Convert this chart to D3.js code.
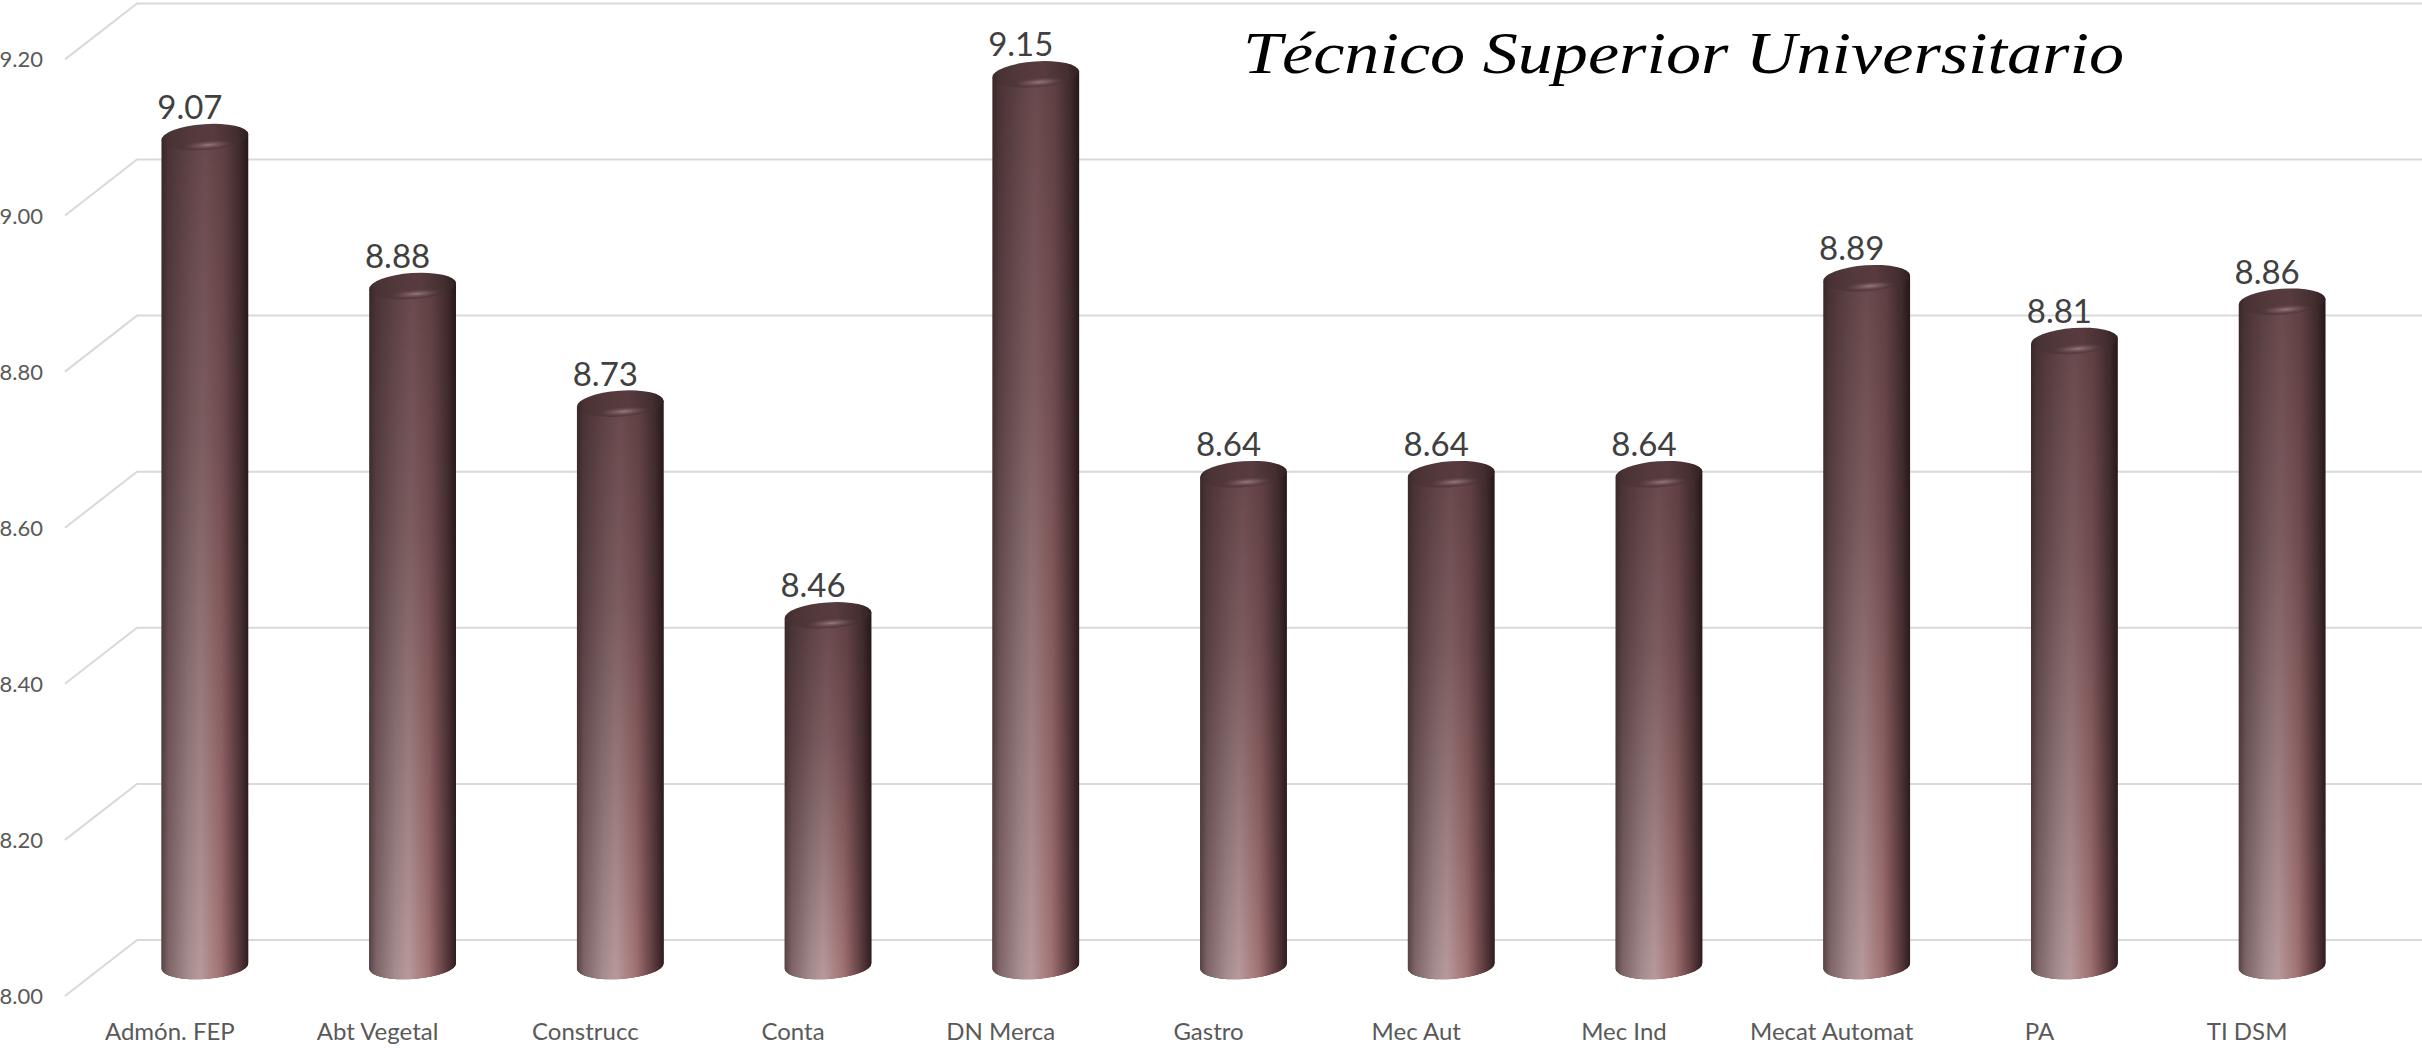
<!DOCTYPE html>
<html>
<head>
<meta charset="utf-8">
<script src="https://cdn.jsdelivr.net/npm/d3@7"></script>
<style>
  html, body { margin: 0; padding: 0; background: #ffffff; }
  svg { display: block; }
</style>
</head>
<body>
<script>
const categories = ["Admón. FEP", "Abt Vegetal", "Construcc", "Conta", "DN Merca", "Gastro", "Mec Aut", "Mec Ind", "Mecat Automat", "PA", "TI DSM"];
const values = [9.07, 8.88, 8.73, 8.46, 9.15, 8.64, 8.64, 8.64, 8.89, 8.81, 8.86];
const yTicks = [8.00, 8.20, 8.40, 8.60, 8.80, 9.00, 9.20];
const title = "Técnico Superior Universitario";

const W = 2422, H = 1048;
const svg = d3.select("body").append("svg").attr("width", W).attr("height", H);
const defs = svg.append("defs");

// Scales
const yBack = d3.scaleLinear().domain([8, 9.2]).range([940, 3.4]);   // back wall
const depth = { dx: -72, dy: 56 };                                   // front plane offset
const yBar = d3.scaleLinear().domain([8, 9.2]).range([976, 35.2]);   // mid depth (bar tops)
const x = d3.scaleBand().domain(categories).range([101, 2386]).padding(0);
const cx = c => x(c) + x.bandwidth() / 2;

// Gridlines (with 3D floor slant)
const grid = svg.append("g");
yTicks.forEach(t => {
  const yb = yBack(t);
  grid.append("path")
    .attr("d", `M${137 + depth.dx},${yb + depth.dy} L137,${yb} L${W},${yb}`)
    .attr("fill", "none").attr("stroke", "#d9d9d9").attr("stroke-width", 2);
});

// Y-axis tick labels (front plane)
svg.append("g").selectAll("text").data(yTicks).join("text")
  .attr("x", 43).attr("y", d => yBack(d) + depth.dy + 8)
  .attr("text-anchor", "end")
  .attr("font-family", "Lato, 'Open Sans', sans-serif")
  .attr("font-size", 22).attr("fill", "#595959")
  .text(d => d3.format(".2f")(d));

// Gradients
function hGrad(id, stops) {
  const g = defs.append("linearGradient").attr("id", id).attr("x1", 0).attr("x2", 1).attr("y1", 0).attr("y2", 0);
  stops.forEach(s => g.append("stop").attr("offset", s[0]).attr("stop-color", s[1]));
}
hGrad("darkBody", [[0, "#3a2729"], [0.08, "#4a3335"], [0.3, "#5c4043"], [0.5, "#6a4a4d"], [0.72, "#5f3f42"], [0.9, "#3f2a2c"], [1, "#261819"]]);
hGrad("lightBody", [[0, "#5a4446"], [0.08, "#7f6567"], [0.3, "#a58d8f"], [0.45, "#b89a9b"], [0.68, "#a27274"], [0.88, "#5e3d3f"], [1, "#2e1e20"]]);

const vg = defs.append("linearGradient").attr("id", "vMaskGrad").attr("x1", 0).attr("x2", 0).attr("y1", 0).attr("y2", 1);
vg.append("stop").attr("offset", 0).attr("stop-color", "#fff").attr("stop-opacity", 0);
vg.append("stop").attr("offset", 0.35).attr("stop-color", "#fff").attr("stop-opacity", 0.25);
vg.append("stop").attr("offset", 1).attr("stop-color", "#fff").attr("stop-opacity", 1);
const mask = defs.append("mask").attr("id", "vMask").attr("maskContentUnits", "objectBoundingBox");
mask.append("rect").attr("width", 1).attr("height", 1).attr("fill", "url(#vMaskGrad)");

// cap: horizontal shading like the body top
hGrad("capH", [[0, "#3c292b"], [0.1, "#4a3335"], [0.4, "#553a3d"], [0.6, "#573b3e"], [0.85, "#452f31"], [1, "#2f1f21"]]);

const hl = defs.append("radialGradient").attr("id", "hlGrad");
hl.append("stop").attr("offset", 0).attr("stop-color", "#a48385").attr("stop-opacity", 0.85);
hl.append("stop").attr("offset", 0.6).attr("stop-color", "#84646a").attr("stop-opacity", 0.35);
hl.append("stop").attr("offset", 1).attr("stop-color", "#6a4c4e").attr("stop-opacity", 0);

const rx = 43.5, ry = 13, theta = -4 * Math.PI / 180;
const baseY = 966;
const ex = rx * Math.cos(theta), ey = rx * Math.sin(theta);

const barData = categories.map((c, i) => ({ c, v: values[i] }));
const bars = svg.append("g").selectAll("g").data(barData).join("g");

function bodyPath(d) {
  const c = cx(d.c), yt = yBar(d.v);
  return `M${c - ex},${yt - ey} L${c - ex},${baseY - ey} ` +
         `A${rx},${ry} -4 0 0 ${c + ex},${baseY + ey} ` +
         `L${c + ex},${yt + ey} Z`;
}
bars.append("path").attr("d", bodyPath).attr("fill", "url(#darkBody)");
bars.append("path").attr("d", bodyPath).attr("fill", "url(#lightBody)").attr("mask", "url(#vMask)");

// Top cap (dark, with soft front highlight)
bars.append("ellipse")
  .attr("cx", d => cx(d.c)).attr("cy", d => yBar(d.v))
  .attr("rx", rx).attr("ry", ry)
  .attr("transform", d => `rotate(-4 ${cx(d.c)} ${yBar(d.v)})`)
  .attr("fill", "url(#capH)");
bars.append("ellipse")
  .attr("cx", d => cx(d.c) + 3).attr("cy", d => yBar(d.v) + 8)
  .attr("rx", 26).attr("ry", 4.5)
  .attr("transform", d => `rotate(-4 ${cx(d.c)} ${yBar(d.v)})`)
  .attr("fill", "url(#hlGrad)");

// Value labels
svg.append("g").selectAll("text").data(barData).join("text")
  .attr("x", d => cx(d.c) - 15).attr("y", d => yBar(d.v) - ry - 5)
  .attr("text-anchor", "middle")
  .attr("font-family", "Lato, 'Open Sans', sans-serif")
  .attr("font-size", 33).attr("fill", "#404040")
  .text(d => d3.format(".2f")(d.v));

// Category labels (front plane)
svg.append("g").selectAll("text").data(categories).join("text")
  .attr("x", d => cx(d) - 35).attr("y", 1040)
  .attr("text-anchor", "middle")
  .attr("font-family", "Lato, 'Open Sans', sans-serif")
  .attr("font-size", 24).attr("fill", "#595959")
  .text(d => d);

// Title
svg.append("text")
  .attr("x", 1243).attr("y", 73)
  .attr("font-family", "'Liberation Serif', serif")
  .attr("font-style", "italic")
  .attr("font-size", 60)
  .attr("textLength", 881).attr("lengthAdjust", "spacingAndGlyphs")
  .attr("fill", "#000")
  .text(title);
</script>
</body>
</html>
